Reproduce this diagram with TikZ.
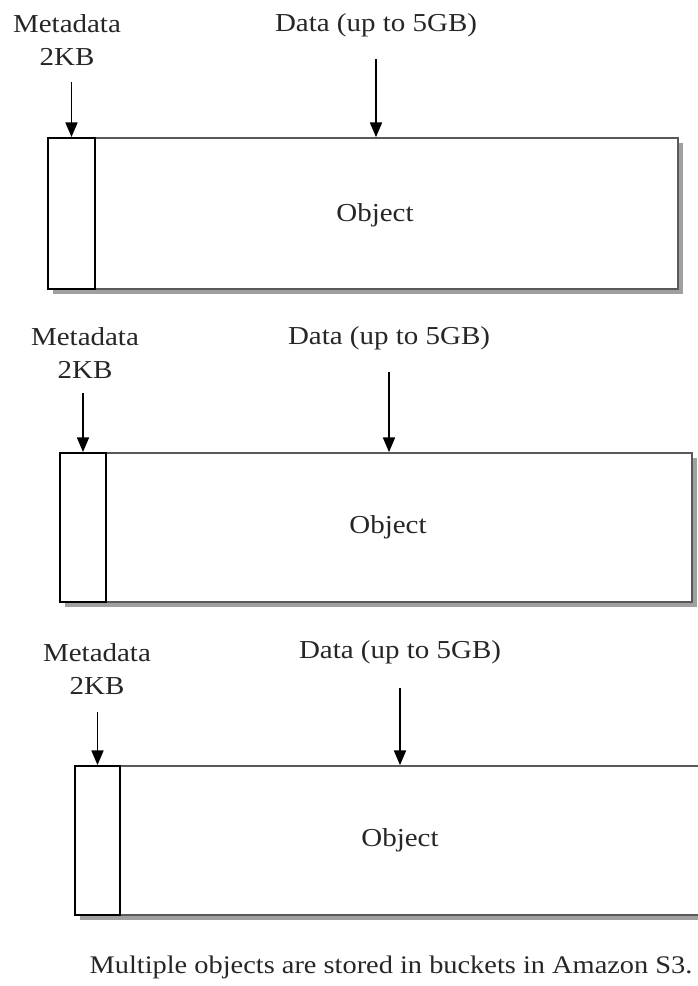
\documentclass[tikz,border=0pt]{standalone}
\usepackage{fontspec}
\setmainfont{Liberation Serif}[FakeStretch=1.12]
\usetikzlibrary{arrows.meta,shadows}

\begin{document}
\begin{tikzpicture}[x=0.75pt,y=-0.75pt,
  every node/.style={font=\fontsize{19.4}{25}\selectfont, text=black!85},
  datbox/.style={rectangle, draw=black!65, line width=1.3pt, fill=white, inner sep=0pt,
    drop shadow={shadow xshift=3.5pt, shadow yshift=-4pt, opacity=0.75}},
  metbox/.style={rectangle, draw=black, line width=1.4pt, fill=white, inner sep=0pt},
  arr/.style={-{Triangle[length=11pt,width=9pt]}, line width=1.3pt}]
\useasboundingbox (0,0) rectangle (697,986);
\node[datbox, minimum width=472.5pt, minimum height=113.25pt] (O1D) at (363,213.5) {};
\node[metbox, minimum width=35.25pt, minimum height=113.25pt] (O1M) at (71.5,213.5) {};
\node (O1T) at (375,215) {Object};
\node[align=center] (O1ML) at (67,40) {Metadata\\2KB};
\node (O1DL) at (376,25) {Data (up to 5GB)};
\coordinate (O1MA) at (71.5,82);
\coordinate (O1DA) at (376,59);
\draw[arr] (O1MA) -- (O1M.north);
\draw[arr] (O1DA) -- (O1DA |- O1D.north);
\node[datbox, minimum width=474pt, minimum height=111.75pt] (O2D) at (376,527.5) {};
\node[metbox, minimum width=34.5pt, minimum height=111.75pt] (O2M) at (83,527.5) {};
\node (O2T) at (388,527) {Object};
\node[align=center] (O2ML) at (85,353) {Metadata\\2KB};
\node (O2DL) at (389,338) {Data (up to 5GB)};
\coordinate (O2MA) at (83,393);
\coordinate (O2DA) at (389,372);
\draw[arr] (O2MA) -- (O2M.north);
\draw[arr] (O2DA) -- (O2DA |- O2D.north);
\node[datbox, minimum width=476.25pt, minimum height=111.75pt] (O3D) at (392.5,840.5) {};
\node[metbox, minimum width=33.75pt, minimum height=111.75pt] (O3M) at (97.5,840.5) {};
\node (O3T) at (400,840) {Object};
\node[align=center] (O3ML) at (97,669) {Metadata\\2KB};
\node (O3DL) at (400,652) {Data (up to 5GB)};
\coordinate (O3MA) at (97.5,712);
\coordinate (O3DA) at (400,688);
\draw[arr] (O3MA) -- (O3M.north);
\draw[arr] (O3DA) -- (O3DA |- O3D.north);
\node[font=\fontsize{19}{25}\selectfont] (CAP) at (391,967) {Multiple objects are stored in buckets in Amazon S3.};
\end{tikzpicture}
\end{document}
